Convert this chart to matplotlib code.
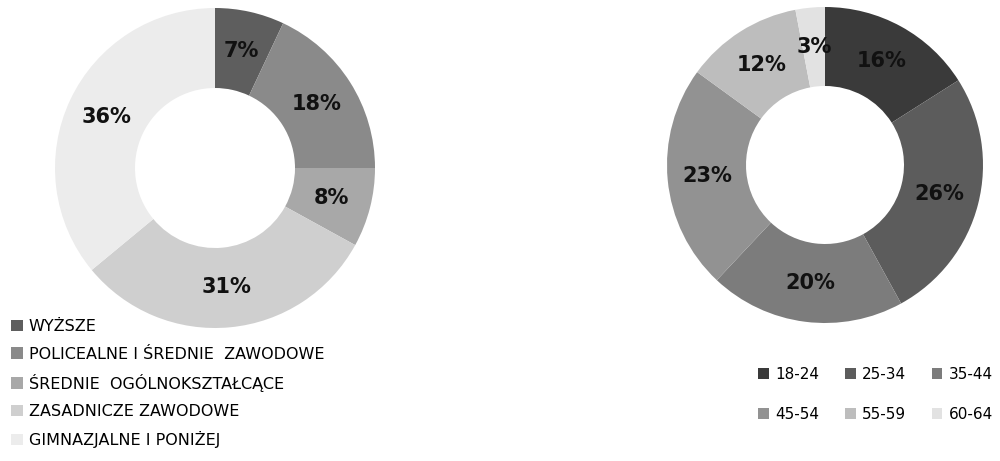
import matplotlib
matplotlib.use("Agg")
import matplotlib.pyplot as plt
from matplotlib.patches import Patch

edu_labels = ["WYŻSZE", "POLICEALNE I ŚREDNIE  ZAWODOWE", "ŚREDNIE  OGÓLNOKSZTAŁCĄCE",
              "ZASADNICZE ZAWODOWE", "GIMNAZJALNE I PONIŻEJ"]
edu_values = [7, 18, 8, 31, 36]
edu_colors = ["#5e5e5e", "#8a8a8a", "#a8a8a8", "#cfcfcf", "#ececec"]

age_labels = ["18-24", "25-34", "35-44", "45-54", "55-59", "60-64"]
age_values = [16, 26, 20, 23, 12, 3]
age_colors = ["#3a3a3a", "#5c5c5c", "#7c7c7c", "#929292", "#bdbdbd", "#e2e2e2"]

W, H = 1000, 461
fig = plt.figure(figsize=(W / 100, H / 100), dpi=100)
fig.patch.set_facecolor("white")

def axes_px(cx, cy, r):
    return fig.add_axes([(cx - r) / W, 1 - (cy + r) / H, 2 * r / W, 2 * r / H])

def donut(ax, values, colors):
    ax.pie(values, colors=colors, startangle=90, counterclock=False,
           radius=1.0, autopct=lambda p: f"{p:.0f}%", pctdistance=0.75,
           wedgeprops=dict(width=0.5, edgecolor="none"),
           textprops=dict(fontsize=15, fontweight="bold", color="#111111"))
    ax.set_xlim(-1, 1)
    ax.set_ylim(-1, 1)
    ax.set_aspect("equal")
    ax.axis("off")

ax1 = axes_px(215, 168, 160)
donut(ax1, edu_values, edu_colors)
ax2 = axes_px(825, 165, 158)
donut(ax2, age_values, age_colors)

h1 = [Patch(facecolor=c, edgecolor="none") for c in edu_colors]
fig.legend(h1, edu_labels, loc="upper left", bbox_to_anchor=(0.005, 1 - 313 / H),
           frameon=False, fontsize=11.5, handlelength=0.7, handleheight=0.7,
           handletextpad=0.4, labelspacing=0.76, borderaxespad=0)

# row-major order for a 3-column legend (matplotlib fills column-major)
ncol = 3
nrow = 2
order = [r * ncol + c for c in range(ncol) for r in range(nrow)]
h2 = [Patch(facecolor=age_colors[i], edgecolor="none") for i in order]
l2 = [age_labels[i] for i in order]
fig.legend(h2, l2, loc="upper left", bbox_to_anchor=(0.752, 1 - 361 / H),
           frameon=False, fontsize=11, ncol=ncol, handlelength=0.7, handleheight=0.7,
           handletextpad=0.4, labelspacing=1.6, columnspacing=1.7, borderaxespad=0)

fig.savefig("out.png", dpi=100, facecolor="white")
